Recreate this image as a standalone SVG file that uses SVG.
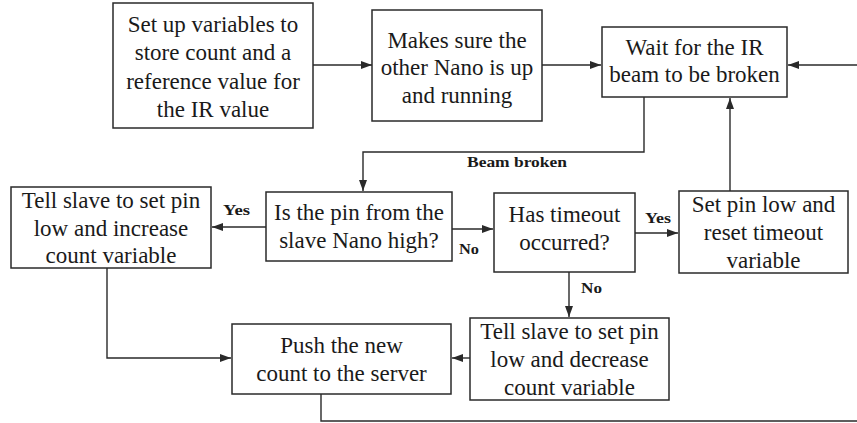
<svg xmlns="http://www.w3.org/2000/svg" width="857" height="423" viewBox="0 0 857 423">
  <style>
    .box { fill: #ffffff; stroke: #2a2a2a; stroke-width: 1.5; }
    .txt { font-family: 'Liberation Serif', 'Tinos', 'DejaVu Serif', serif; font-size: 23px; fill: #1a1a1a; text-anchor: middle; }
    .lbl { font-family: 'Liberation Serif', 'Tinos', 'DejaVu Serif', serif; font-size: 15px; font-weight: bold; fill: #1a1a1a; }
    .wire { fill: none; stroke: #2a2a2a; stroke-width: 1.4; }
    .arrow { marker-end: url(#head); }
  </style>
  <defs>
    <marker id="head" markerUnits="userSpaceOnUse" markerWidth="11" markerHeight="8" refX="11" refY="4" orient="auto">
      <path d="M0,0 L11,4 L0,8 z" fill="#2a2a2a"/>
    </marker>
  </defs>

  <rect width="857" height="423" fill="#ffffff"/>

  <!-- connectors -->
  <g id="connectors">
    <path class="wire arrow" d="M313,65 L372,65"/>
    <path class="wire arrow" d="M542,65 L601,65"/>
    <path class="wire arrow" d="M857,65 L788,65"/>
    <path class="wire arrow" d="M644,97 L644,152 L363,152 L363,191"/>
    <path class="wire arrow" d="M266,227 L212,227"/>
    <path class="wire arrow" d="M452,229 L493,229"/>
    <path class="wire arrow" d="M635,233 L678,233"/>
    <path class="wire arrow" d="M730,191 L730,98"/>
    <path class="wire arrow" d="M569,272 L569,317"/>
    <path class="wire arrow" d="M470,358 L452,358"/>
    <path class="wire arrow" d="M107,268 L107,358 L231,358"/>
    <path class="wire" d="M321,394 L321,421 L857,421"/>
    <text class="lbl" x="467" y="167" textLength="100" lengthAdjust="spacingAndGlyphs">Beam broken</text>
    <text class="lbl" x="223" y="215" textLength="27" lengthAdjust="spacingAndGlyphs">Yes</text>
    <text class="lbl" x="459" y="254" textLength="20" lengthAdjust="spacingAndGlyphs">No</text>
    <text class="lbl" x="645" y="223" textLength="26" lengthAdjust="spacingAndGlyphs">Yes</text>
    <text class="lbl" x="581" y="293" textLength="21" lengthAdjust="spacingAndGlyphs">No</text>
  </g>

  <g id="setup">
    <rect class="box" x="113" y="3" width="200" height="125"/>
    <text class="txt" x="213" y="32">Set up variables to</text>
    <text class="txt" x="213" y="60">store count and a</text>
    <text class="txt" x="213" y="88.5">reference value for</text>
    <text class="txt" x="213" y="117">the IR value</text>
  </g>

  <g id="check-nano">
    <rect class="box" x="372" y="10" width="170" height="111"/>
    <text class="txt" x="457" y="47.5">Makes sure the</text>
    <text class="txt" x="457" y="75">other Nano is up</text>
    <text class="txt" x="457" y="102.5">and running</text>
  </g>

  <g id="wait-beam">
    <rect class="box" x="602" y="27" width="185" height="70"/>
    <text class="txt" x="694.5" y="55">Wait for the IR</text>
    <text class="txt" x="694.5" y="82">beam to be broken</text>
  </g>

  <g id="pin-high">
    <rect class="box" x="266" y="192" width="186" height="69"/>
    <text class="txt" x="359" y="220">Is the pin from the</text>
    <text class="txt" x="359" y="248">slave Nano high?</text>
  </g>

  <g id="increase">
    <rect class="box" x="11" y="187" width="200" height="81"/>
    <text class="txt" x="111" y="207.5">Tell slave to set pin</text>
    <text class="txt" x="111" y="235.5">low and increase</text>
    <text class="txt" x="111" y="263">count variable</text>
  </g>

  <g id="timeout">
    <rect class="box" x="494" y="193" width="141" height="79"/>
    <text class="txt" x="564.5" y="222">Has timeout</text>
    <text class="txt" x="564.5" y="250">occurred?</text>
  </g>

  <g id="reset-timeout">
    <rect class="box" x="679" y="191" width="169" height="82"/>
    <text class="txt" x="763.5" y="212">Set pin low and</text>
    <text class="txt" x="763.5" y="240">reset timeout</text>
    <text class="txt" x="763.5" y="268">variable</text>
  </g>

  <g id="push-server">
    <rect class="box" x="232" y="324" width="219" height="70"/>
    <text class="txt" x="341.5" y="353">Push the new</text>
    <text class="txt" x="341.5" y="380.5">count to the server</text>
  </g>

  <g id="decrease">
    <rect class="box" x="470" y="318" width="199" height="82"/>
    <text class="txt" x="569.5" y="338.5">Tell slave to set pin</text>
    <text class="txt" x="569.5" y="366.5">low and decrease</text>
    <text class="txt" x="569.5" y="394.5">count variable</text>
  </g>
</svg>
